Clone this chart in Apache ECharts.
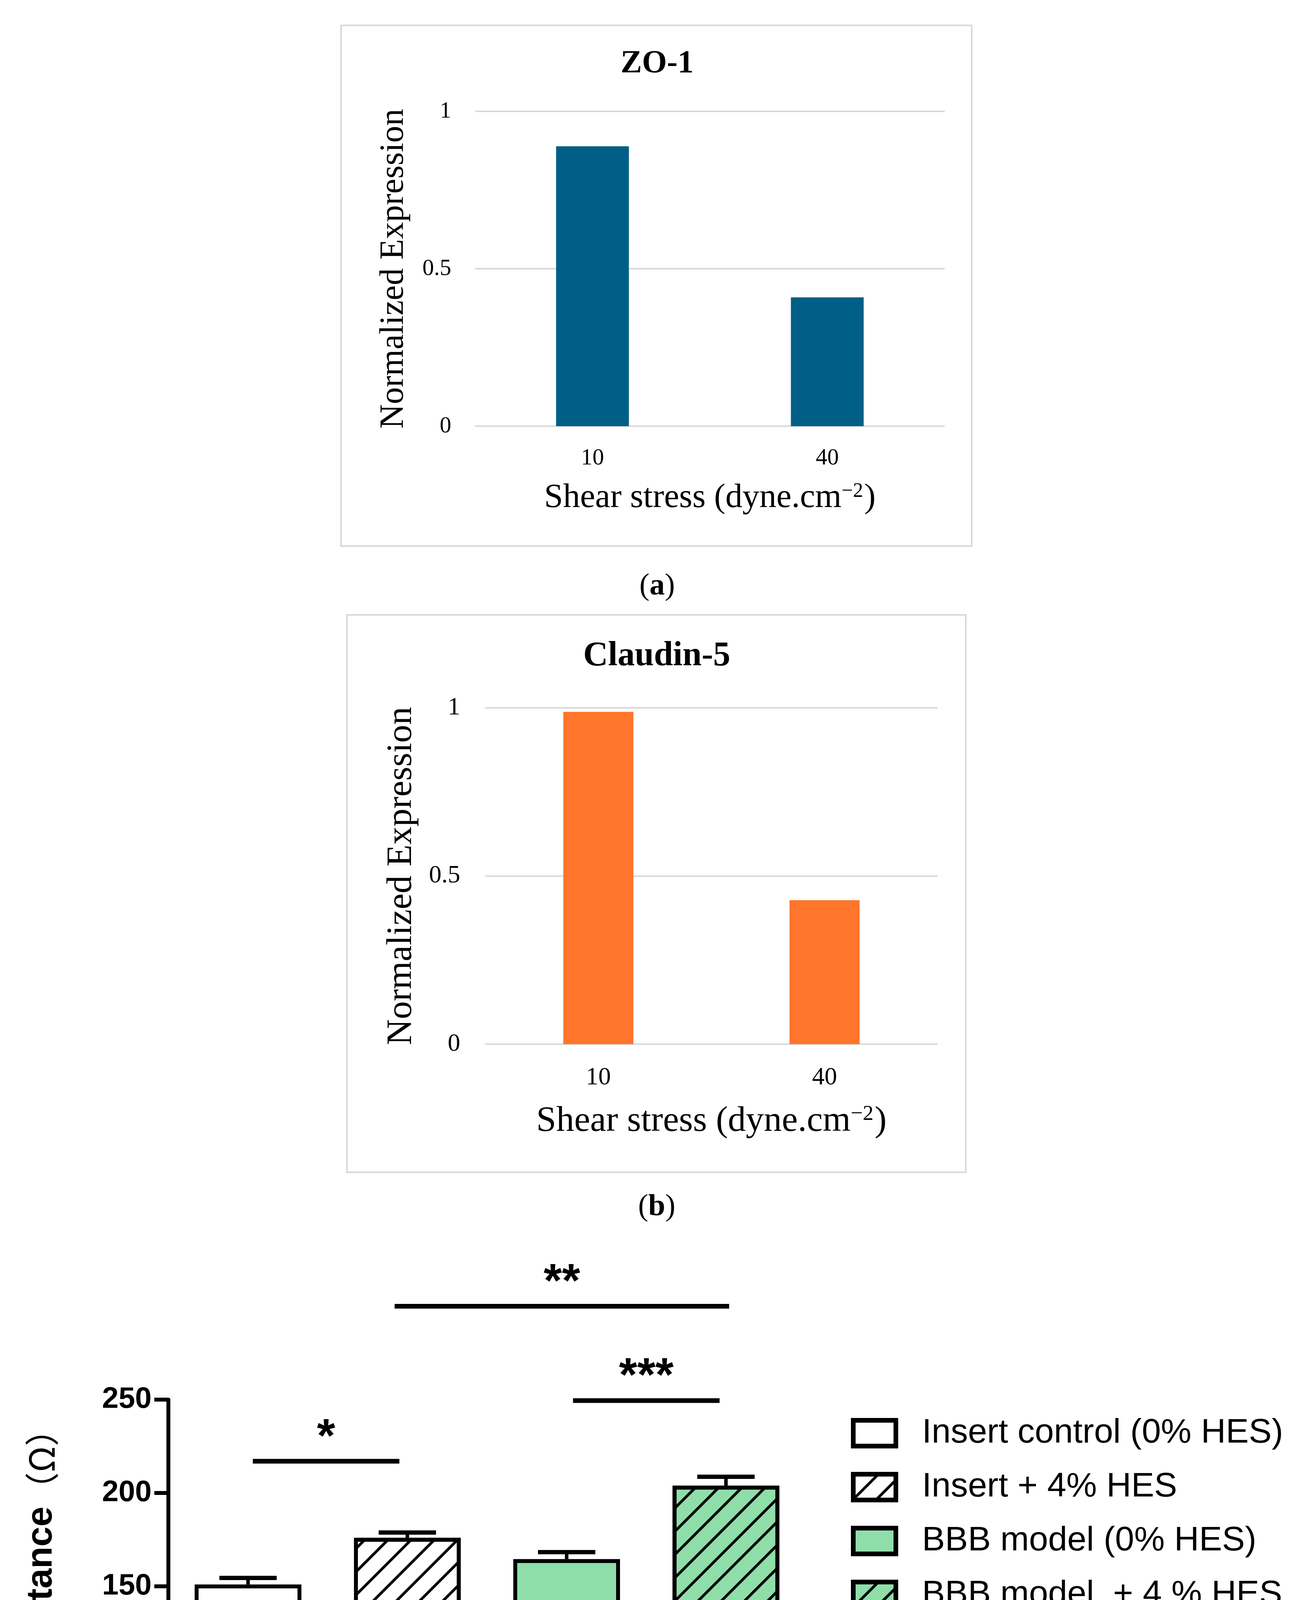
<!DOCTYPE html>
<html>
<head>
<meta charset="utf-8">
<script src="https://cdn.jsdelivr.net/npm/echarts@6/dist/echarts.min.js"></script>
<style>
  html, body { margin: 0; padding: 0; background: #fff; }
  #main { width: 3330px; height: 5027px; }
</style>
</head>
<body>
<div id="main"></div>
<script>
// (a) ZO-1 and (b) Claudin-5, normalized expression vs shear stress
const shearLabels = ['10', '40']
const zo1Values = [0.889, 0.409]
const claudinValues = [0.988, 0.428]
const expressionTicks = [0, 0.5, 1]

// (c) electrical resistance per group
const groupNames = ['Insert control (0% HES)', 'Insert + 4% HES', 'BBB model (0% HES)', 'BBB model  + 4 % HES']
const resistanceValues = [151, 176, 164.6, 203.9]
const resistanceErrors = [3.5, 2.8, 3.7, 4.8]
const resistanceTicks = [0, 50, 100, 150, 200, 250]

// significance bars: from / to (in category units), height (Ω), stars
const sigFrom = [0.03, 2.04, 0.92]
const sigTo = [0.95, 2.96, 3.02]
const sigLevel = [217, 249.5, 300]
const sigStars = ['*', '***', '**']

const SERIF = '"Liberation Serif", "Times New Roman", serif'
const SANS = '"Liberation Sans", Arial, sans-serif'

const groupFill = ['#ffffff', '#ffffff', '#8fdeaa', '#8fdeaa']
const groupHatched = [false, true, false, true]

// "/" hatching, like the GraphPad bars
const hatch = {
  symbol: 'rect',
  symbolSize: 1,
  color: '#000',
  dashArrayX: [1, 0],
  dashArrayY: [7, 35],
  rotation: -Math.PI / 4
}

const chart = echarts.init(document.getElementById('main'), null, { renderer: 'canvas' })

// shared axis setup for the two expression panels
function shearAxis(gridIndex, fs, nameFs, labelMargin, nameGap) {
  return {
    type: 'category',
    gridIndex: gridIndex,
    data: shearLabels,
    axisLine: { show: false },
    axisTick: { show: false },
    axisLabel: { fontFamily: SERIF, fontSize: fs, color: '#000', margin: labelMargin },
    name: 'Shear stress (dyne.cm{sup|\u22122})',
    nameLocation: 'middle',
    nameGap: nameGap,
    nameTextStyle: {
      fontFamily: SERIF,
      fontSize: nameFs,
      color: '#000',
      rich: {
        sup: { fontFamily: SERIF, fontSize: Math.round(nameFs * 0.6), color: '#000', verticalAlign: 'top', padding: [0, 3, 0, 0] }
      }
    }
  }
}

function expressionAxis(gridIndex, fs, nameFs, labelMargin, nameGap) {
  return {
    type: 'value',
    gridIndex: gridIndex,
    min: expressionTicks[0],
    max: expressionTicks[expressionTicks.length - 1],
    interval: expressionTicks[1] - expressionTicks[0],
    axisLine: { show: false },
    axisTick: { show: false },
    axisLabel: { fontFamily: SERIF, fontSize: fs, color: '#000', margin: labelMargin },
    splitLine: { lineStyle: { color: '#d9d9d9', width: 4 } },
    name: 'Normalized Expression',
    nameLocation: 'middle',
    nameGap: nameGap,
    nameTextStyle: { fontFamily: SERIF, fontSize: nameFs, color: '#000' }
  }
}

const groupSeries = groupNames.map((name, i) => {
  const item = {
    color: groupFill[i],
    borderColor: '#000',
    borderWidth: 10
  }
  if (groupHatched[i]) item.decal = hatch
  return {
    name: name,
    type: 'bar',
    xAxisIndex: 2,
    yAxisIndex: 2,
    barWidth: '67%',
    barGap: '-100%',
    data: groupNames.map((_, j) => (j === i ? resistanceValues[i] : '-')),
    itemStyle: item,
    z: 3
  }
})

const option = {
  animation: false,
  backgroundColor: '#fff',
  grid: [
    { left: 1216, top: 285, width: 1202, height: 806 },
    { left: 1242, top: 1812, width: 1158, height: 861 },
    { left: 431, top: 3583, width: 1631, height: 1195 }
  ],
  xAxis: [
    shearAxis(0, 59, 87, 53, 141),
    shearAxis(1, 64, 92, 54, 152),
    {
      type: 'category',
      gridIndex: 2,
      data: groupNames,
      axisLine: { lineStyle: { color: '#000', width: 10 } },
      axisTick: { show: false },
      axisLabel: { show: false }
    }
  ],
  yAxis: [
    expressionAxis(0, 59, 87, 61, 164),
    expressionAxis(1, 64, 92, 64, 168),
    {
      type: 'value',
      gridIndex: 2,
      min: resistanceTicks[0],
      max: resistanceTicks[resistanceTicks.length - 1],
      interval: resistanceTicks[1] - resistanceTicks[0],
      axisLine: { show: true, lineStyle: { color: '#000', width: 10 } },
      axisTick: { show: true, length: 36, lineStyle: { color: '#000', width: 10 } },
      axisLabel: { fontFamily: SANS, fontWeight: 'bold', fontSize: 76, color: '#000', margin: 43 },
      splitLine: { show: false },
      name: 'Electrical resistance{p|\uFF08\u03A9\uFF09}',
      nameLocation: 'middle',
      nameGap: 278,
      nameTextStyle: {
        fontFamily: SANS,
        fontWeight: 'bold',
        fontSize: 92,
        color: '#000',
        rich: {
          p: { fontFamily: '"Noto Sans CJK SC", sans-serif', fontWeight: 'normal', fontSize: 88, color: '#000' }
        }
      }
    }
  ],
  legend: {
    orient: 'vertical',
    left: 2173,
    top: 3614,
    itemWidth: 109,
    itemHeight: 66,
    itemGap: 38,
    icon: 'rect',
    selectedMode: false,
    data: groupNames,
    itemStyle: { borderColor: '#000', borderWidth: 12 },
    textStyle: { fontFamily: SANS, fontSize: 88, lineHeight: 100, color: '#000', padding: [0, 0, 0, 62] }
  },
  graphic: [
    { type: 'rect', silent: true, z: -1, shape: { x: 873, y: 65, width: 1614, height: 1333 }, style: { fill: 'none', stroke: '#d9d9d9', lineWidth: 4 } },
    { type: 'rect', silent: true, z: -1, shape: { x: 888, y: 1574, width: 1584, height: 1427 }, style: { fill: 'none', stroke: '#d9d9d9', lineWidth: 4 } },
    { type: 'text', silent: true, x: 1682, y: 164, style: { text: 'ZO-1', font: 'bold 82px ' + SERIF, fill: '#000', textAlign: 'center', textVerticalAlign: 'middle' } },
    { type: 'text', silent: true, x: 1681, y: 1680, style: { text: 'Claudin-5', font: 'bold 88px ' + SERIF, fill: '#000', textAlign: 'center', textVerticalAlign: 'middle' } },
    { type: 'text', silent: true, x: 1682, y: 1502, style: { text: '({b|a})', font: '78px ' + SERIF, fill: '#000', textAlign: 'center', textVerticalAlign: 'middle', rich: { b: { fontFamily: SERIF, fontSize: 78, fontWeight: 'bold', fill: '#000' } } } },
    { type: 'text', silent: true, x: 1681, y: 3091, style: { text: '({b|b})', font: '78px ' + SERIF, fill: '#000', textAlign: 'center', textVerticalAlign: 'middle', rich: { b: { fontFamily: SERIF, fontSize: 78, fontWeight: 'bold', fill: '#000' } } } },
    { type: 'text', silent: true, x: 1684, y: 4946, style: { text: '(c)', font: '78px ' + SERIF, fill: '#000', textAlign: 'center', textVerticalAlign: 'middle' } }
  ],
  series: [
    {
      type: 'bar',
      xAxisIndex: 0,
      yAxisIndex: 0,
      barWidth: '31%',
      data: zo1Values,
      itemStyle: { color: '#005f87' }
    },
    {
      type: 'bar',
      xAxisIndex: 1,
      yAxisIndex: 1,
      barWidth: '31%',
      data: claudinValues,
      itemStyle: { color: '#ff752b' }
    },
    ...groupSeries,
    {
      // SEM error bars (upper only)
      type: 'custom',
      name: 'error',
      xAxisIndex: 2,
      yAxisIndex: 2,
      clip: false,
      silent: true,
      z: 4,
      data: resistanceValues.map((v, i) => [i, v, resistanceErrors[i]]),
      renderItem(params, api) {
        const base = api.coord([api.value(0), api.value(1)])
        const top = api.coord([api.value(0), api.value(1) + api.value(2)])
        const half = api.size([1, 0])[0] * 0.18
        return {
          type: 'group',
          children: [
            { type: 'line', shape: { x1: base[0], y1: base[1], x2: top[0], y2: top[1] }, style: { stroke: '#000', lineWidth: 9 } },
            { type: 'line', shape: { x1: top[0] - half, y1: top[1], x2: top[0] + half, y2: top[1] }, style: { stroke: '#000', lineWidth: 11 } }
          ]
        }
      }
    },
    {
      // significance lines with stars
      type: 'custom',
      name: 'significance',
      xAxisIndex: 2,
      yAxisIndex: 2,
      clip: false,
      silent: true,
      z: 4,
      data: sigLevel.map((y, i) => [i, y]),
      renderItem(params, api) {
        const i = params.dataIndex
        const band = api.size([1, 0])[0]
        const p0 = api.coord([0, sigLevel[i]])
        const x1 = p0[0] + sigFrom[i] * band
        const x2 = p0[0] + sigTo[i] * band
        const y = p0[1]
        return {
          type: 'group',
          children: [
            { type: 'line', shape: { x1: x1, y1: y, x2: x2, y2: y }, style: { stroke: '#000', lineWidth: 12 } },
            { type: 'text', x: (x1 + x2) / 2, y: y - 58, style: { text: sigStars[i], font: 'bold 120px ' + SANS, fill: '#000', textAlign: 'center', textVerticalAlign: 'middle' } }
          ]
        }
      }
    }
  ]
}

chart.setOption(option)
</script>
</body>
</html>
